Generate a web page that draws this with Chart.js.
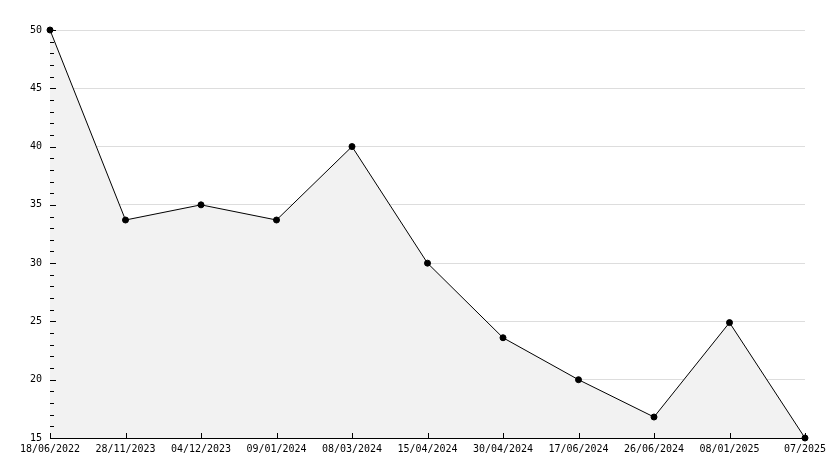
<!DOCTYPE html>
<html>
<head>
<meta charset="utf-8">
<script src="https://cdn.jsdelivr.net/npm/chart.js@4"></script>
<style>
    html, body { margin: 0; padding: 0; background: #fff; }
    #wrap { width: 834px; height: 468px; }
</style>
</head>
<body>
<div id="wrap"><canvas id="chart" width="834" height="468"></canvas></div>
<script>
let dates = ["18/06/2022", "28/11/2023", "04/12/2023", "09/01/2024", "08/03/2024",
             "15/04/2024", "30/04/2024", "17/06/2024", "26/06/2024", "08/01/2025", "07/2025"];
let values = [50, 33.7, 35, 33.7, 40, 30, 23.6, 20, 16.8, 24.9, 15];
let yMin = 15;
let yMax = 50;
let yStep = 5;

// small tick marks drawn inside the plot, like the original
let innerTicks = {
    id: "innerTicks",
    beforeDatasetsDraw(chart) {
        let ctx = chart.ctx;
        let area = chart.chartArea;
        let y = chart.scales.y;
        let x = chart.scales.x;
        ctx.save();
        ctx.strokeStyle = "#000";
        ctx.lineWidth = 1;
        ctx.beginPath();
        for (let v = yMin; v <= yMax; v++) {
            let py = Math.round(y.getPixelForValue(v)) + 0.5;
            let len = (v % yStep === 0) ? 6 : 4;
            ctx.moveTo(area.left, py);
            ctx.lineTo(area.left + len, py);
        }
        ctx.stroke();
        ctx.restore();
    },
    afterDatasetsDraw(chart) {
        let ctx = chart.ctx;
        let area = chart.chartArea;
        let x = chart.scales.x;
        let y = chart.scales.y;
        ctx.save();
        ctx.strokeStyle = "#000";
        ctx.lineWidth = 1;
        ctx.beginPath();
        for (let v = yMin; v <= yMax; v++) {
            let py = Math.round(y.getPixelForValue(v)) + 0.5;
            let len = (v % yStep === 0) ? 6 : 4;
            ctx.moveTo(area.left, py);
            ctx.lineTo(area.left + len, py);
        }
        for (let i = 0; i < dates.length; i++) {
            let px = Math.round(x.getPixelForValue(i)) + 0.5;
            ctx.moveTo(px, area.bottom);
            ctx.lineTo(px, area.bottom - 5);
        }
        ctx.stroke();
        ctx.restore();
    }
};

let chart = new Chart(document.getElementById("chart"), {
    type: "line",
    data: {
        labels: dates,
        datasets: [{
            data: values,
            clip: false,
            borderColor: "#000",
            borderWidth: 1,
            backgroundColor: "#f2f2f2",
            fill: "start",
            tension: 0,
            pointRadius: 3,
            pointStyle: "circle",
            pointBackgroundColor: "#000",
            pointBorderColor: "#000",
            pointBorderWidth: 1
        }]
    },
    options: {
        responsive: false,
        animation: false,
        layout: { padding: { left: 0, top: 30, right: 29, bottom: 0 } },
        plugins: {
            legend: { display: false },
            tooltip: { enabled: false }
        },
        scales: {
            x: {
                offset: false,
                grid: { drawOnChartArea: false, drawTicks: false },
                border: { display: true, color: "#000", width: 1 },
                ticks: {
                    autoSkip: false,
                    maxRotation: 0,
                    padding: 5,
                    color: "#000",
                    font: { family: "DejaVu Sans Mono", size: 10 }
                },
                afterFit: scale => { scale.height = 30; }
            },
            y: {
                min: yMin,
                max: yMax,
                grid: {
                    drawTicks: false,
                    color: c => c.tick && c.tick.value === yMin ? "rgba(0,0,0,0)" : "#dddddd",
                    lineWidth: 1
                },
                border: { display: true, color: "#000", width: 1 },
                ticks: {
                    stepSize: yStep,
                    padding: 8,
                    color: "#000",
                    font: { family: "DejaVu Sans Mono", size: 10 }
                },
                afterFit: scale => { scale.width = 50; }
            }
        }
    },
    plugins: [innerTicks]
});
</script>
</body>
</html>
